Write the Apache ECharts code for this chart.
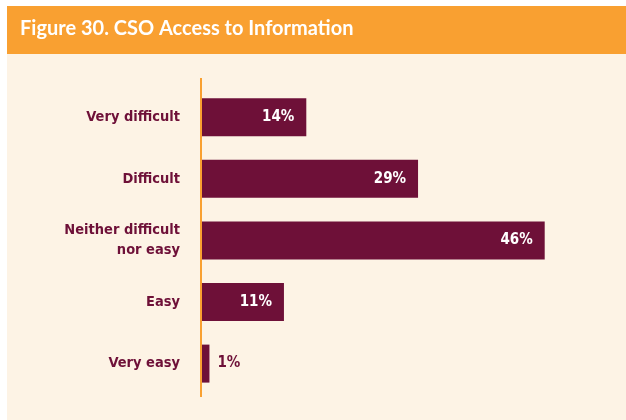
<!DOCTYPE html>
<html>
<head>
<meta charset="utf-8">
<script src="https://cdn.jsdelivr.net/npm/echarts@6/dist/echarts.min.js"></script>
<style>
  html, body { margin: 0; padding: 0; background: #fff; }
  #chart { width: 626px; height: 420px; }
</style>
</head>
<body>
<div id="chart"></div>
<script>
// 数据
const categories = ['Very difficult', 'Difficult', 'Neither difficult\nnor easy', 'Easy', 'Very easy']
const shares = [14, 29, 46, 11, 1]
const outsideLabelMax = 5

const maroon = '#6E1038'
const orange = '#F9A031'
const cream = '#FDF3E5'
const narrow = '"Liberation Sans Narrow", "DejaVu Sans Condensed", sans-serif'

const chart = echarts.init(document.getElementById('chart'))

chart.setOption({
  backgroundColor: '#fff',
  animation: false,
  graphic: [
    { type: 'rect', shape: { x: 7, y: 54, width: 619, height: 366 }, style: { fill: cream }, z: -10 },
    { type: 'rect', shape: { x: 7, y: 6, width: 619, height: 48 }, style: { fill: orange }, z: -10 },
    { type: 'line', shape: { x1: 201, y1: 78, x2: 201, y2: 397 }, style: { stroke: orange, lineWidth: 2 }, z: 10 }
  ],
  title: {
    text: 'Figure 30. CSO Access to Information',
    left: 20,
    top: 19,
    padding: 0,
    textStyle: { color: '#fff', fontSize: 20, fontWeight: 'bold', fontFamily: 'Lato, sans-serif' }
  },
  grid: { left: 202, right: 51.5, top: 86.4, bottom: 25.6, containLabel: false },
  xAxis: {
    type: 'value',
    min: 0,
    max: 50,
    show: false
  },
  yAxis: {
    type: 'category',
    data: categories,
    inverse: true,
    axisLine: { show: false },
    axisTick: { show: false },
    axisLabel: {
      margin: 22,
      color: maroon,
      fontFamily: narrow,
      fontWeight: 'bold',
      fontSize: 14.5,
      lineHeight: 20,
      align: 'right'
    }
  },
  series: [{
    type: 'bar',
    barWidth: 38,
    itemStyle: { color: maroon },
    data: shares.map(v => ({
      value: v,
      label: v < outsideLabelMax
        ? { position: 'right', distance: 8, color: maroon }
        : { position: 'insideRight', distance: 12, color: '#fff' }
    })),
    label: {
      show: true,
      formatter: '{c}%',
      fontFamily: narrow,
      fontWeight: 'bold',
      fontSize: 15
    }
  }]
})

window.addEventListener('resize', () => chart.resize())
</script>
</body>
</html>
